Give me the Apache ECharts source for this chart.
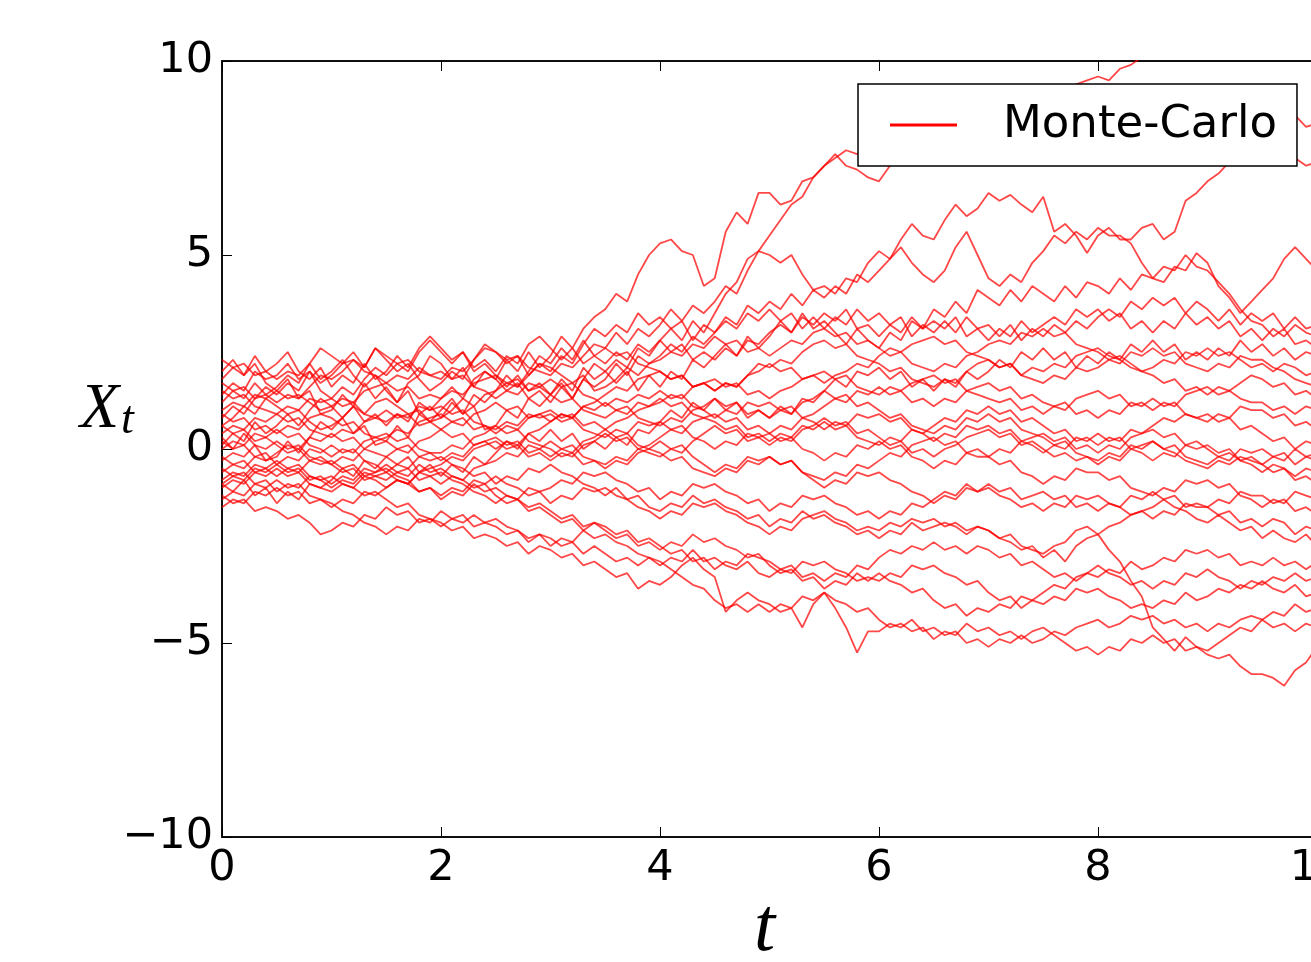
<!DOCTYPE html>
<html>
<head>
<meta charset="utf-8">
<script src="https://cdn.jsdelivr.net/npm/echarts@6/dist/echarts.min.js"></script>
<style>
html,body{margin:0;padding:0;background:#fff;}
#chart{width:1311px;height:962px;}
</style>
</head>
<body>
<div id="chart"></div>
<script>
// sampling times (t)
const times = [0,0.1,0.2,0.3,0.4,0.5,0.6,0.7,0.8,0.9,1,1.1,1.2,1.3,1.4,1.5,1.6,1.7,1.8,1.9,2,2.1,2.2,2.3,2.4,2.5,2.6,2.7,2.8,2.9,3,3.1,3.2,3.3,3.4,3.5,3.6,3.7,3.8,3.9,4,4.1,4.2,4.3,4.4,4.5,4.6,4.7,4.8,4.9,5,5.1,5.2,5.3,5.4,5.5,5.6,5.7,5.8,5.9,6,6.1,6.2,6.3,6.4,6.5,6.6,6.7,6.8,6.9,7,7.1,7.2,7.3,7.4,7.5,7.6,7.7,7.8,7.9,8,8.1,8.2,8.3,8.4,8.5,8.6,8.7,8.8,8.9,9,9.1,9.2,9.3,9.4,9.5,9.6,9.7,9.8,9.9,10];

// Monte-Carlo paths X_t
const p01 = [1.2,1.5,1.3,1.7,1.4,1.6, 1.9,1.7,2.2,1.8,2.0, 2.3,1.9,1.6,1.9,1.5, 1.2,1.7,1.9,2.4,2.2, 1.8,2.1,1.6,2.0,1.8, 2.3,2.0,2.5,2.1,2.4, 2.9,2.6,3.1,3.4,3.6, 4.0,3.8,4.5,5.0,5.3, 5.4,5.1,5.0,4.2,4.4, 5.6,6.1,5.8,6.6,6.6, 6.3,6.4,6.9,7.0,7.3, 7.5,7.7,7.6,7.9,8.0, 8.2,8.0,8.4,8.1,8.3, 8.5,8.4,8.7,8.6,8.8, 8.7,9.0,8.9,9.2,9.1, 9.2,9.0,9.4,9.5,9.6, 9.5,9.8,9.9,10.1,10.3, 10.4,10.6,10.5,10.8,10.9, 11.0,10.8,11.1,11.3,11.1, 11.2,11.0,11.3,11.1,11.2];
const p02 = [0.3,0.0,0.4,0.1,-0.3,-0.2, 0.2,-0.1,0.3,0.7,0.5, 0.8,0.4,0.6,0.1,0.2, 0.6,0.3,0.9,0.7,1.0, 1.3,0.9,1.1,0.5,0.6, 1.0,0.8,1.3,1.1,1.4, 1.7,1.3,1.8,2.2,2.0, 2.3,2.1,2.6,2.4,2.8, 3.1,2.8,3.3,3.0,3.5, 4.0,4.3,4.9,5.1,5.5, 5.9,6.3,6.5,7.0,7.3, 7.6,7.3,7.2,7.0,6.9, 7.3,7.5,7.8,7.6,7.9, 8.1,7.9,8.3,8.0,8.2, 8.4,8.1,7.9,8.2,8.0, 8.3,8.1,8.5,8.4,8.6, 8.8,8.5,8.7,8.4,8.3, 8.6,8.4,8.9,8.7,8.8, 9.0,8.7,8.9,8.6,8.5, 8.7,8.4,8.6,8.3,8.4];
const p03 = [2.0,2.3,1.9,2.2,1.7,1.5, 1.8,1.3,1.5,0.9,1.0, 1.4,1.1,1.7,1.3,1.6, 1.2,1.5,0.9,1.1,0.8, 1.2,0.9,1.4,1.2,1.5, 1.9,1.6,2.0,2.4,2.2, 2.6,2.3,2.8,2.4,2.6, 3.0,2.7,3.1,2.9,3.2, 3.6,3.3,3.7,3.5,3.8, 4.2,4.0,4.6,5.1,5.0, 4.8,5.0,4.5,4.1,4.2, 4.0,4.4,4.3,4.8,5.1, 4.9,5.4,5.8,5.5,5.4, 5.9,6.3,6.0,6.2,6.6, 6.4,6.55,6.3,6.1,6.5, 5.6,5.8,5.5,5.05,5.5, 5.7,5.4,5.4,5.7,5.8, 5.4,5.6,6.4,6.6,6.9, 7.1,7.4,7.6,7.9,7.8, 7.9,7.6,7.5,7.3,7.4];
const p04 = [0.8,1.1,0.9,1.3,1.6,1.4, 1.7,1.5,2.0,1.7,1.9, 2.2,2.5,2.1,2.6,2.3, 2.0,2.2,1.8,1.5,1.7, 2.0,1.8,2.3,2.7,2.5, 2.2,2.4,1.9,2.2,2.0, 2.4,2.2,2.7,3.1,2.9, 3.2,3.0,3.5,3.2,3.4, 3.1,3.3,2.8,3.2,3.0, 3.4,3.2,3.7,3.5,3.8, 3.6,4.0,3.7,4.1,3.9, 4.2,4.0,4.5,4.3,4.6, 4.9,5.2,4.8,4.5,4.3, 4.6,5.2,5.6,5.0,4.4, 4.2,4.5,4.3,4.8,5.1, 5.5,5.3,5.6,5.4,5.7, 5.5,5.5,5.3,4.8,4.4, 4.7,4.6,5.0,4.7,4.6, 4.3,4.0,3.6,3.3,3.2, 2.9,3.1,2.7,2.8,2.6];
const p05 = [1.8,2.1,1.9,2.4,2.0,2.2, 2.5,2.0,1.8,2.1,1.6, 1.9,1.7,2.2,1.8,2.0, 2.4,2.1,2.6,2.9,2.6, 2.3,2.5,2.0,2.2,1.9, 1.6,1.9,1.5,1.7,1.4, 1.8,1.5,2.1,1.8,2.0, 1.7,2.0,1.5,1.9,1.6, 2.0,1.8,2.3,2.1,2.4, 2.7,2.4,2.9,2.6,2.9, 3.3,3.0,3.5,3.1,3.3, 3.0,2.7,3.1,2.8,2.6, 3.0,2.8,3.3,3.1,3.6, 3.4,3.8,3.5,4.1,3.9, 3.7,4.1,3.8,4.2,4.0, 3.8,4.2,3.9,4.3,4.2, 4.0,4.4,4.1,4.5,4.4, 4.3,4.7,4.6,5.05,4.8, 4.2,3.9,3.5,3.8,4.1, 4.4,4.9,5.2,4.9,4.6];
const p06 = [0.1,0.4,0.2,0.7,0.4,0.6, 0.9,0.6,1.0,1.3,1.1, 0.8,1.1,0.7,0.9,0.6, 0.9,0.7,1.2,1.0,1.3, 1.6,1.3,1.8,2.0,1.8, 1.5,1.7,1.3,1.5,1.2, 1.6,1.3,1.8,1.6,1.8, 2.2,1.9,2.4,2.2,2.4, 2.7,2.5,2.9,2.7,3.0, 3.3,3.1,3.5,3.3,3.6, 3.3,3.5,3.1,3.4,3.1, 3.4,3.2,3.6,3.3,3.5, 3.2,3.4,2.9,3.2,3.0, 3.3,3.0,3.4,3.1,3.2, 2.9,3.2,2.8,3.1,2.9, 3.2,3.0,3.3,3.1,3.4, 3.6,3.4,3.8,3.6,3.9, 3.7,3.9,3.5,3.8,3.6, 3.3,3.6,3.2,3.5,3.3, 3.5,3.1,3.4,3.1,3.2];
const p07 = [1.4,1.7,1.5,2.0,1.8,1.9, 2.2,1.8,2.0,1.5,1.3, 1.6,1.4,1.8,2.1,1.9, 2.2,2.0,2.5,2.8,2.5, 2.2,2.5,2.1,2.3,2.0, 2.4,2.2,2.7,2.9,2.6, 2.3,2.6,2.2,2.4,2.2, 2.5,2.3,2.7,2.5,2.8, 2.5,2.7,2.3,2.5,2.3, 2.6,2.4,2.8,2.7,3.0, 3.2,3.0,3.4,3.2,3.5, 3.3,3.6,3.1,3.2,2.9, 3.2,3.0,3.4,3.1,3.3, 3.1,3.4,2.9,3.1,2.8, 3.1,2.9,3.3,3.0,3.2, 3.4,3.2,3.6,3.4,3.6, 3.3,3.5,3.1,3.3,3.0, 3.3,3.1,3.5,3.2,3.4, 3.1,3.3,2.9,3.1,2.8, 3.1,2.9,3.2,3.0,2.9];
const p08 = [-0.9,-1.1,-0.8,-1.2,-1.0,-1.4, -1.1,-1.3,-0.9,-1.0,-0.8, -0.5,-0.7,-0.3,-0.5,-0.2, -0.4,-0.2,-0.6,-0.4,-0.7, -0.4,-0.6,-0.2,-0.4,-0.1, 0.2,0.0,0.4,0.2,0.5, 0.2,0.4,0.0,0.2,0.0, 0.3,0.1,0.5,0.4,0.7, 1.0,0.8,1.2,1.0,1.3, 1.0,1.2,0.8,1.0,0.8, 1.1,0.9,1.3,1.2,1.5, 1.8,1.6,2.0,1.9,2.1, 1.8,2.0,1.6,1.8,1.5, 1.8,1.6,2.0,1.8,2.0, 2.3,2.1,2.5,2.3,2.6, 2.3,2.5,2.1,2.4,2.2, 2.5,2.3,2.7,2.5,2.8, 2.5,2.7,2.3,2.5,2.3, 2.6,2.4,2.8,2.5,2.7, 2.4,2.6,2.3,2.5,2.4];
const p09 = [0.6,0.8,1.1,0.9,1.3,1.1, 0.9,1.0,0.7,0.5,0.6, 0.8,1.1,0.9,1.2,1.3, 1.1,0.9,1.0,0.7,0.8, 1.0,1.3,1.1,1.4,1.5, 1.7,1.6,1.9,2.2,2.1, 1.9,1.7,1.9,1.5,1.6, 1.8,2.1,1.9,2.2,2.3, 2.5,2.4,2.7,2.6,2.9, 2.7,2.8,2.5,2.6,2.4, 2.6,2.8,2.7,3.0,3.1, 2.9,3.0,2.7,2.8,2.6, 2.4,2.5,2.2,2.1,2.0, 2.2,2.1,2.4,2.5,2.7, 2.8,2.7,3.0,2.9,3.1, 2.9,3.0,2.7,2.6,2.5, 2.3,2.4,2.2,2.0,2.1, 2.3,2.2,2.5,2.4,2.6, 2.4,2.5,2.3,2.1,2.2, 2.0,2.2,2.1,1.9,2.0];
const p10 = [1.7,1.5,1.6,1.3,1.4,1.2, 1.4,1.3,1.6,1.9,1.8, 2.0,2.3,2.1,2.6,2.4, 2.2,2.3,2.0,1.9,1.8, 2.1,2.0,2.3,2.6,2.5, 2.3,2.4,2.1,2.0,1.9, 2.2,2.1,2.4,2.7,2.6, 2.4,2.5,2.2,2.1,2.0, 1.8,1.9,1.6,1.7,1.5, 1.7,1.6,1.9,2.2,2.1, 2.3,2.2,2.5,2.7,2.8, 2.6,2.7,2.4,2.3,2.2, 2.0,2.1,1.8,1.7,1.6, 1.8,1.7,2.0,2.2,2.3, 2.1,2.2,1.9,1.8,1.7, 1.9,1.8,2.1,2.0,2.1, 2.3,2.2,2.5,2.4,2.6, 2.4,2.5,2.2,2.1,2.0, 2.2,2.1,2.4,2.3,2.3, 2.1,2.0,1.8,1.7,1.6];
const p11 = [-0.3,-0.1,-0.2,0.1,0.0,0.2, 0.0,0.1,-0.2,-0.3,-0.4, -0.2,-0.3,0.0,0.2,0.3, 0.5,0.4,0.7,0.8,0.9, 0.7,0.8,0.5,0.6,0.4, 0.6,0.5,0.8,0.9,1.0, 0.8,0.9,0.6,0.7,0.5, 0.7,0.8,1.0,1.1,1.2, 1.4,1.3,1.6,1.7,1.8, 1.6,1.7,1.4,1.5,1.3, 1.5,1.6,1.8,1.9,2.0, 1.8,1.9,1.6,1.5,1.4, 1.6,1.5,1.7,1.8,1.9, 1.7,1.8,1.5,1.4,1.3, 1.2,1.3,1.0,1.1,0.9, 1.1,1.0,1.3,1.4,1.5, 1.3,1.4,1.1,1.2,1.0, 1.2,1.1,1.4,1.5,1.6, 1.4,1.5,1.3,1.2,1.2, 1.0,1.1,0.9,1.1,1.0];
const p12 = [-1.0,-0.8,-0.9,-0.6,-0.7,-0.5, -0.7,-0.6,-0.9,-1.0,-1.1, -0.9,-1.0,-0.7,-0.6,-0.4, -0.6,-0.5,-0.8,-0.7,-0.9, -0.7,-0.8,-0.5,-0.4,-0.3, -0.1,-0.2,0.1,0.0,0.2, 0.0,0.1,-0.2,-0.3,-0.4, -0.2,-0.3,0.0,0.1,0.3, 0.5,0.4,0.7,0.8,0.9, 0.7,0.8,0.5,0.6,0.4, 0.6,0.5,0.8,0.9,1.1, 1.3,1.2,1.5,1.4,1.6, 1.4,1.5,1.2,1.3,1.1, 1.3,1.2,1.5,1.6,1.7, 1.5,1.6,1.3,1.4,1.2, 1.1,1.2,0.9,1.0,0.8, 1.0,0.9,1.2,1.1,1.3, 1.1,1.2,0.9,0.8,0.7, 0.9,0.8,1.1,1.0,1.0, 0.8,0.9,0.6,0.7,0.5];
const p13 = [1.0,1.2,1.1,1.4,1.3,1.5, 1.3,1.4,1.2,1.0,1.1, 1.3,1.2,1.5,1.6,1.7, 1.5,1.6,1.3,1.4,1.3, 1.5,1.4,1.7,1.8,1.9, 1.7,1.8,1.5,1.6,1.4, 1.2,1.3,1.0,0.9,0.8, 1.0,0.9,1.2,1.1,1.3, 1.1,1.2,0.9,0.8,0.7, 0.5,0.6,0.3,0.4,0.2, 0.4,0.3,0.6,0.5,0.7, 0.5,0.6,0.3,0.2,0.1, 0.3,0.2,0.5,0.4,0.6, 0.8,0.7,1.0,0.9,1.1, 0.9,1.0,0.7,0.8,0.6, 0.4,0.5,0.2,0.3,0.1, 0.3,0.2,0.5,0.4,0.6, 0.8,0.7,0.9,0.8,0.9, 0.7,0.8,0.5,0.6,0.4, 0.2,0.3,0.0,0.2,0.1];
const p14 = [-0.6,-0.4,-0.5,-0.2,-0.3,-0.1, 0.1,0.0,0.3,0.2,0.4, 0.2,0.3,0.0,-0.1,-0.2, 0.0,-0.1,0.2,0.3,0.5, 0.3,0.4,0.1,0.2,0.0, 0.2,0.1,0.4,0.5,0.7, 0.9,0.8,1.1,1.0,1.2, 1.0,1.1,0.8,0.7,0.6, 0.8,0.7,1.0,1.1,1.3, 1.1,1.2,0.9,1.0,0.8, 1.0,0.9,1.2,1.3,1.5, 1.3,1.4,1.1,1.2,1.0, 0.8,0.9,0.6,0.5,0.4, 0.6,0.5,0.8,0.7,0.9, 0.7,0.8,0.5,0.4,0.3, 0.1,0.2,-0.1,-0.2,-0.3, -0.1,-0.2,0.1,0.0,0.2, 0.0,0.1,-0.2,-0.3,-0.4, -0.2,-0.3,0.0,-0.1,0.0, -0.2,-0.1,-0.4,-0.2,-0.3];
const p15 = [2.3,2.1,2.2,1.9,2.0,1.8, 2.0,1.9,2.2,2.6,2.4, 2.2,2.3,2.0,1.9,1.7, 1.9,1.8,2.1,1.9,2.0, 1.8,1.9,1.6,1.5,1.3, 1.5,1.4,1.7,1.6,1.8, 1.6,1.7,1.4,1.3,1.1, 1.3,1.2,1.4,1.3,1.5, 1.3,1.4,1.1,1.0,0.8, 1.0,0.9,1.2,1.1,1.2, 1.0,1.1,0.8,0.7,0.5, 0.7,0.6,0.9,0.8,0.9, 0.7,0.8,0.5,0.4,0.2, 0.4,0.3,0.6,0.5,0.6, 0.4,0.5,0.2,0.1,-0.1, 0.1,0.0,0.3,0.2,0.4, 0.2,0.3,0.0,-0.1,-0.3, -0.1,-0.2,0.1,0.0,0.1, -0.1,0.0,-0.3,-0.4,-0.6, -0.4,-0.5,-0.7,-0.5,-0.6];
const p16 = [-0.2,-0.4,-0.3,-0.6,-0.5,-0.7, -0.5,-0.6,-0.3,-0.4,-0.3, -0.5,-0.4,-0.7,-0.8,-1.0, -0.8,-0.9,-0.6,-0.5,-0.4, -0.2,-0.3,0.0,0.1,0.2, 0.0,0.1,-0.2,-0.1,-0.3, -0.1,-0.2,0.1,0.2,0.4, 0.2,0.3,0.0,-0.1,-0.2, 0.0,-0.1,0.2,0.4,0.6, 0.4,0.5,0.2,0.3,0.1, 0.3,0.2,0.5,0.6,0.8, 0.6,0.7,0.4,0.5,0.3, 0.1,0.2,-0.1,0.0,-0.2, 0.0,0.1,0.3,0.4,0.5, 0.3,0.4,0.1,0.2,0.0, -0.2,-0.1,-0.3,-0.2,-0.4, -0.2,-0.3,0.0,0.1,0.2, 0.0,-0.1,-0.3,-0.4,-0.5, -0.3,-0.4,-0.2,-0.3,-0.4, -0.6,-0.5,-0.8,-0.7,-0.9];
const p17 = [1.5,1.3,1.4,1.1,1.0,0.9, 1.1,1.0,1.3,1.2,1.3, 1.1,1.2,0.9,0.8,0.7, 0.9,0.8,1.1,1.0,1.1, 0.9,1.0,0.7,0.6,0.5, 0.7,0.6,0.9,0.8,0.9, 0.7,0.8,0.5,0.4,0.3, 0.5,0.4,0.7,0.6,0.7, 0.5,0.6,0.3,0.2,0.0, 0.2,0.1,0.4,0.3,0.4, 0.2,0.3,0.0,-0.1,-0.3, -0.1,-0.2,0.1,0.0,0.2, 0.0,0.1,-0.2,-0.3,-0.5, -0.3,-0.4,-0.1,-0.2,-0.2, -0.4,-0.3,-0.6,-0.7,-0.9, -0.7,-0.8,-0.5,-0.6,-0.6, -0.8,-0.7,-1.0,-1.1,-1.2, -1.0,-1.1,-0.8,-0.9,-0.8, -1.0,-0.9,-1.2,-1.3,-1.5, -1.3,-1.4,-1.1,-1.2,-1.3];
const p18 = [0.0,0.2,0.1,0.4,0.3,0.5, 0.3,0.4,0.1,0.0,-0.2, 0.0,-0.1,0.2,0.3,0.4, 0.2,0.3,0.0,-0.1,-0.1, 0.1,0.0,0.3,0.4,0.6, 0.4,0.5,0.2,0.1,0.0, -0.2,-0.1,-0.4,-0.3,-0.5, -0.3,-0.4,-0.1,0.0,0.2, 0.0,0.1,-0.2,-0.4,-0.6, -0.4,-0.5,-0.2,-0.3,-0.2, -0.4,-0.3,-0.6,-0.8,-1.0, -0.8,-0.9,-0.6,-0.7,-0.6, -0.8,-0.9,-1.1,-1.2,-1.4, -1.2,-1.3,-1.0,-1.1,-0.9, -1.1,-1.0,-1.3,-1.2,-1.1, -1.3,-1.2,-1.5,-1.4,-1.6, -1.4,-1.5,-1.2,-1.3,-1.1, -1.3,-1.2,-1.5,-1.4,-1.5, -1.3,-1.4,-1.1,-1.2,-1.2, -1.4,-1.3,-1.6,-1.5,-1.7];
const p19 = [-1.3,-1.1,-1.2,-0.9,-1.0,-0.8, -1.0,-0.9,-1.2,-1.3,-1.5, -1.3,-1.4,-1.1,-1.2,-1.0, -0.8,-0.9,-0.6,-0.7,-0.6, -0.8,-0.9,-1.1,-1.2,-1.4, -1.2,-1.3,-1.0,-1.1,-1.0, -0.8,-0.9,-0.6,-0.7,-0.6, -0.8,-0.9,-1.1,-1.0,-1.3, -1.1,-1.2,-0.9,-1.0,-0.9, -1.1,-1.2,-1.4,-1.3,-1.6, -1.4,-1.5,-1.2,-1.3,-1.2, -1.4,-1.5,-1.7,-1.6,-1.8, -1.6,-1.7,-1.4,-1.5,-1.3, -1.1,-1.2,-0.9,-1.1,-1.0, -1.2,-1.3,-1.5,-1.4,-1.6, -1.4,-1.5,-1.2,-1.3,-1.2, -1.4,-1.5,-1.7,-1.6,-1.8, -1.6,-1.7,-1.4,-1.5,-1.5, -1.7,-1.6,-1.9,-1.8,-2.0, -1.8,-1.9,-2.2,-2.0,-2.1];
const p20 = [-0.9,-0.7,-0.8,-0.5,-0.6,-0.4, -0.2,-0.3,0.0,-0.1,0.1, -0.1,0.0,-0.3,-0.4,-0.6, -0.4,-0.5,-0.2,-0.3,-0.2, -0.4,-0.5,-0.7,-0.6,-0.9, -0.7,-0.8,-0.5,-0.6,-0.4, -0.6,-0.7,-0.9,-1.0,-1.2, -1.0,-1.3,-1.2,-1.5,-1.6, -1.4,-1.5,-1.2,-1.4,-1.3, -1.5,-1.6,-1.8,-1.7,-2.0, -1.8,-1.9,-1.6,-1.8,-1.7, -1.9,-2.0,-2.2,-2.1,-2.3, -2.1,-2.2,-1.9,-2.1,-2.0, -1.9,-2.0,-2.2,-2.0,-2.1, -2.3,-2.4,-2.6,-2.5,-2.8, -2.6,-2.9,-2.5,-2.3,-2.2, -2.0,-1.9,-1.7,-1.6,-1.5, -1.3,-1.5,-1.6,-1.8,-1.9, -1.7,-1.9,-2.1,-2.0,-2.3, -2.1,-2.3,-2.4,-2.2,-2.5];
const p21 = [0.6,0.4,0.5,0.2,0.3,0.1, -0.1,0.0,-0.3,-0.2,-0.4, -0.6,-0.5,-0.8,-0.7,-0.8, -0.6,-0.7,-0.4,-0.6,-0.5, -0.7,-0.8,-1.0,-0.9,-1.2, -1.4,-1.3,-1.6,-1.5,-1.7, -1.9,-1.8,-2.1,-1.9,-2.0, -2.2,-2.1,-2.4,-2.3,-2.5, -2.7,-2.6,-2.9,-2.8,-3.1, -2.9,-3.0,-2.7,-2.8,-2.9, -3.1,-3.0,-3.3,-3.2,-3.4, -3.2,-3.3,-3.0,-3.1,-2.8, -2.6,-2.7,-2.5,-2.6,-2.4, -2.6,-2.5,-2.7,-2.5,-2.6, -2.8,-2.7,-3.0,-2.9,-3.1, -3.3,-3.2,-3.4,-3.2,-3.3, -3.1,-3.2,-2.9,-3.1,-3.0, -2.8,-2.9,-2.6,-2.7,-2.6, -2.8,-2.7,-3.0,-2.9,-3.0, -2.8,-3.0,-2.9,-3.1,-2.9];
const p22 = [0.2,0.0,0.1,-0.2,-0.1,-0.4, -0.6,-0.5,-0.8,-0.7,-0.9, -0.7,-0.8,-0.5,-0.6,-0.5, -0.7,-0.8,-1.1,-1.0,-1.3, -1.1,-1.2,-0.9,-1.1,-1.0, -1.2,-1.3,-1.5,-1.4,-1.6, -1.8,-1.7,-2.0,-1.9,-2.1, -2.3,-2.2,-2.5,-2.4,-2.6, -2.4,-2.5,-2.2,-2.4,-2.3, -2.5,-2.6,-2.8,-2.7,-3.0, -3.2,-3.1,-3.4,-3.3,-3.6, -3.4,-3.5,-3.2,-3.4,-3.2, -3.4,-3.5,-3.7,-3.6,-3.9, -4.1,-4.0,-4.3,-4.1,-4.2, -4.0,-4.1,-3.8,-3.9,-3.7, -3.5,-3.6,-3.3,-3.2,-3.0, -3.2,-3.3,-3.5,-3.4,-3.6, -3.4,-3.5,-3.2,-3.3,-3.1, -3.3,-3.4,-3.6,-3.4,-3.5, -3.3,-3.4,-3.2,-3.4,-3.3];
const p23 = [-0.5,-0.7,-0.6,-0.9,-0.8,-1.1, -0.9,-1.0,-0.7,-0.8,-0.7, -0.9,-1.0,-1.2,-1.1,-1.3, -1.5,-1.4,-1.7,-1.8,-2.0, -1.8,-1.9,-1.7,-1.9,-1.8, -2.0,-2.1,-2.3,-2.2,-2.5, -2.3,-2.4,-2.1,-2.3,-2.2, -2.4,-2.5,-2.7,-2.8,-3.0, -2.8,-2.9,-2.6,-2.9,-2.8, -3.0,-3.1,-2.9,-3.2,-3.3, -3.1,-3.2,-2.9,-3.0,-2.9, -3.1,-3.2,-3.4,-3.3,-3.4, -3.2,-3.3,-3.0,-3.1,-3.0, -3.2,-3.3,-3.5,-3.4,-3.7, -3.9,-3.8,-4.1,-3.9,-4.0, -3.8,-3.9,-3.6,-3.7,-3.6, -3.8,-3.9,-4.1,-4.0,-4.1, -3.9,-4.0,-3.7,-3.9,-3.8, -3.6,-3.7,-3.5,-3.6,-3.4, -3.6,-3.7,-3.5,-3.8,-3.7];
const p24 = [-1.5,-1.3,-1.4,-1.1,-1.2,-1.0, -1.2,-1.1,-1.4,-1.3,-1.4, -1.6,-1.7,-1.9,-2.0,-2.2, -2.0,-2.1,-1.8,-1.9,-1.6, -1.8,-1.7,-2.0,-1.9,-2.0, -2.2,-2.1,-2.4,-2.2,-2.3, -2.5,-2.4,-2.7,-2.5,-2.7, -2.9,-2.8,-3.0,-2.8,-2.9, -3.1,-3.3,-3.5,-3.6,-3.9, -4.1,-4.0,-4.2,-4.0,-4.2, -4.0,-4.1,-3.8,-3.9,-3.7, -3.9,-4.0,-4.2,-4.1,-4.4, -4.6,-4.5,-4.7,-4.6,-4.9, -4.7,-4.8,-4.5,-4.7,-4.6, -4.8,-4.7,-4.9,-4.7,-4.6, -4.8,-5.0,-5.2,-5.1,-5.3, -5.1,-5.2,-4.9,-5.0,-4.8, -5.0,-4.9,-5.2,-5.1,-5.2, -5.0,-4.8,-4.6,-4.7,-4.4, -4.2,-4.3,-4.0,-4.2,-4.1];
const p25 = [-1.2,-1.4,-1.3,-1.6,-1.5,-1.6, -1.8,-1.7,-1.9,-2.2,-2.1, -1.9,-2.0,-1.7,-1.8,-1.5, -1.7,-1.6,-1.9,-1.8,-1.9, -2.1,-2.0,-2.3,-2.2,-2.3, -2.5,-2.4,-2.7,-2.5,-2.6, -2.8,-2.7,-3.0,-2.9,-3.1, -3.3,-3.2,-3.6,-3.4,-3.5, -3.3,-3.0,-2.8,-3.1,-3.3, -4.2,-3.9,-3.7,-3.9,-4.0, -4.2,-4.1,-4.6,-4.0,-3.7, -4.1,-4.6,-5.25,-4.7,-4.7, -4.5,-4.6,-4.4,-4.7,-4.6, -4.8,-4.7,-5.0,-4.9,-5.1, -4.9,-5.0,-4.8,-5.0,-4.9, -4.7,-4.8,-4.6,-4.5,-4.4, -4.6,-4.5,-4.3,-4.4,-4.3, -4.5,-4.4,-4.6,-4.5,-4.7, -4.5,-4.6,-4.4,-4.3,-4.4, -4.6,-4.5,-4.7,-4.5,-4.6];
const p26 = [-0.8,-0.6,-0.7,-0.4,-0.5,-0.3, -0.5,-0.4,-0.7,-0.8,-1.0, -0.8,-0.9,-0.6,-0.7,-0.6, -0.8,-0.9,-1.1,-1.0,-1.2, -1.0,-1.1,-0.8,-0.9,-0.7, -0.9,-1.0,-1.2,-1.1,-1.4, -1.2,-1.3,-1.0,-1.1,-1.0, -1.2,-1.3,-1.5,-1.6,-1.8, -1.6,-1.7,-1.4,-1.5,-1.4, -1.6,-1.7,-1.9,-2.0,-2.2, -2.0,-2.1,-1.8,-1.7,-1.6, -1.8,-1.9,-2.1,-2.0,-2.1, -1.9,-2.0,-1.8,-1.9,-1.8, -2.0,-1.9,-2.1,-2.0,-2.1, -2.3,-2.2,-2.5,-2.6,-2.7, -2.5,-2.4,-2.1,-2.0,-2.2, -2.6,-2.9,-3.4,-3.8,-4.6, -4.9,-5.2,-4.85,-5.1,-5.3, -5.4,-5.3,-5.6,-5.8,-5.8, -5.9,-6.1,-5.7,-5.5,-5.1];
const p27 = [0.4,0.6,0.5,0.8,0.7,0.9, 0.7,0.8,0.5,0.4,0.3, 0.5,0.4,0.7,0.8,1.0, 0.8,0.9,0.6,0.7,0.5, 0.7,0.6,0.9,1.0,1.2, 1.0,1.1,0.8,0.9,0.7, 0.9,0.8,1.1,1.2,1.4, 1.6,1.5,1.8,1.9,2.0, 1.8,1.9,1.6,1.7,1.5, 1.7,1.6,1.9,2.0,2.2, 2.0,2.1,1.8,1.9,1.7, 1.9,2.0,2.2,2.1,2.4, 2.6,2.5,2.7,2.8,2.9, 2.7,2.8,2.5,2.4,2.3, 2.1,2.2,1.9,2.1,2.0, 2.2,2.1,2.4,2.5,2.6, 2.4,2.3,2.1,2.0,1.9, 1.7,1.8,1.5,1.6,1.4, 1.6,1.5,1.7,1.9,1.8, 1.6,1.7,1.4,1.5,1.3];
const p28 = [0.9,0.7,0.8,0.5,0.6,0.4, 0.6,0.5,0.8,0.9,0.8, 0.6,0.7,0.4,0.3,0.2, 0.0,0.1,-0.2,-0.1,-0.3, -0.1,-0.2,0.1,0.2,0.3, 0.1,0.2,-0.1,0.0,-0.2, 0.0,-0.1,0.2,0.3,0.5, 0.3,0.4,0.1,0.0,-0.1, -0.3,-0.2,-0.5,-0.6,-0.7, -0.5,-0.6,-0.3,-0.4,-0.2, -0.4,-0.3,-0.6,-0.7,-0.8, -0.6,-0.7,-0.4,-0.5,-0.3, -0.1,-0.2,0.1,0.2,0.3, 0.1,0.2,-0.1,0.0,-0.2, 0.0,-0.1,0.2,0.3,0.4, 0.2,0.3,0.0,0.1,-0.1, 0.1,0.0,0.3,0.4,0.5, 0.3,0.4,0.1,0.2,0.0, -0.2,-0.1,-0.3,-0.2,-0.4, -0.2,-0.3,0.0,-0.2,-0.1];

const paths = [p01,p02,p03,p04,p05,p06,p07,p08,p09,p10,p11,p12,p13,p14,p15,p16,p17,p18,p19,p20,p21,p22,p23,p24,p25,p26,p27,p28];
const xTicks = [0, 2, 4, 6, 8, 10];
const yTicks = [-10, -5, 0, 5, 10];
const seriesName = 'Monte-Carlo';

const chart = echarts.init(document.getElementById('chart'), null, {renderer: 'canvas'});
const minus = v => String(v).replace('-', '\u2212');
const FONT = 'DejaVu Sans';

const series = paths.map(vals => ({
  name: seriesName,
  type: 'line',
  data: vals.map((v, i) => [times[i], v]),
  showSymbol: false,
  symbol: 'none',
  clip: true,
  silent: true,
  animation: false,
  lineStyle: {color: 'rgba(255,0,0,0.72)', width: 1.8},
  itemStyle: {color: '#ff0000'},
  emphasis: {disabled: true},
  z: 2
}));

const option = {
  backgroundColor: '#ffffff',
  animation: false,
  grid: {left: 222, top: 61, width: 1095, height: 776, show: true, borderColor: '#000', borderWidth: 1.5,
         backgroundColor: 'transparent', containLabel: false, outerBoundsMode: 'none'},
  legend: {
    data: [{name: seriesName, icon: 'rect', itemStyle: {color: '#ff0000', opacity: 1}}],
    left: 858, top: 84,
    padding: [16, 20, 16, 32],
    itemWidth: 67, itemHeight: 3,
    backgroundColor: '#ffffff',
    borderColor: '#000', borderWidth: 1.5,
    selectedMode: false,
    textStyle: {fontFamily: FONT, fontSize: 45, color: '#000', padding: [0, 0, 0, 41], lineHeight: 50},
    z: 10
  },
  xAxis: [{
    type: 'value', min: xTicks[0], max: xTicks[xTicks.length - 1], interval: 2,
    axisLine: {show: true, onZero: false, lineStyle: {color: '#000', width: 1.5}},
    axisTick: {show: true, inside: true, length: 10, lineStyle: {color: '#000', width: 1}},
    axisLabel: {fontFamily: FONT, fontSize: 43, color: '#000', margin: 10, formatter: minus, hideOverlap: false},
    splitLine: {show: false}
  }, {
    type: 'value', position: 'top', min: xTicks[0], max: xTicks[xTicks.length - 1], interval: 2,
    axisLine: {show: true, onZero: false, lineStyle: {color: '#000', width: 1.5}},
    axisTick: {show: true, inside: true, length: 10, lineStyle: {color: '#000', width: 1}},
    axisLabel: {show: false},
    splitLine: {show: false}
  }],
  yAxis: [{
    type: 'value', min: yTicks[0], max: yTicks[yTicks.length - 1], interval: 5,
    axisLine: {show: true, onZero: false, lineStyle: {color: '#000', width: 1.5}},
    axisTick: {show: true, inside: true, length: 10, lineStyle: {color: '#000', width: 1}},
    axisLabel: {fontFamily: FONT, fontSize: 43, color: '#000', margin: 9, formatter: minus},
    splitLine: {show: false}
  }],
  graphic: [
    {type: 'text', left: 80, top: 374, silent: true, z: 20,
     style: {text: '{x|X}{s|t}', rich: {
       x: {fontFamily: 'Liberation Serif', fontStyle: 'italic', fontSize: 64, fill: '#000', verticalAlign: 'bottom', lineHeight: 66},
       s: {fontFamily: 'Liberation Serif', fontStyle: 'italic', fontSize: 46, fill: '#000', padding: [24, 0, 0, 2], lineHeight: 66}
     }}},
    {type: 'text', left: 754, top: 892, silent: true, z: 20,
     style: {text: 't', fontFamily: 'Liberation Serif', fontStyle: 'italic', fontSize: 76, fill: '#000'}}
  ],
  series: series
};
chart.setOption(option);
</script>
</body>
</html>
